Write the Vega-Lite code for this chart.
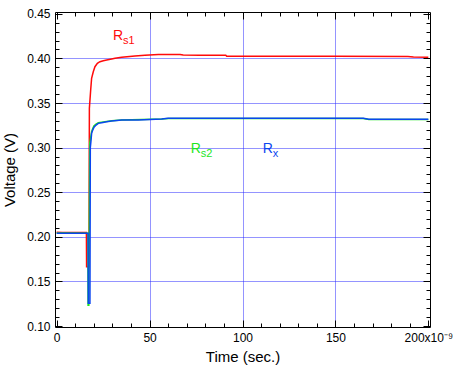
{
  "$schema": "https://vega.github.io/schema/vega-lite/v6.json",
  "width": 375,
  "height": 315,
  "autosize": {"type": "none"},
  "padding": {"left": 55, "top": 12, "right": 24, "bottom": 42},
  "background": "white",
  "config": {
    "view": {"stroke": null},
    "font": "Liberation Sans",
    "axis": {
      "domainColor": "black",
      "tickColor": "black",
      "labelColor": "black",
      "titleColor": "black",
      "labelFont": "Liberation Sans",
      "titleFont": "Liberation Sans",
      "titleFontWeight": "normal",
      "labelFontSize": 12,
      "titleFontSize": 15,
      "domainWidth": 1,
      "tickWidth": 1,
      "labelFlush": false,
      "labelOverlap": false
    }
  },
  "datasets": {
    "traces": [
      {"t": 0, "v": 0.2052, "s": "Rs1"},
      {"t": 3, "v": 0.2050, "s": "Rs1"},
      {"t": 8, "v": 0.2050, "s": "Rs1"},
      {"t": 12, "v": 0.2049, "s": "Rs1"},
      {"t": 16.0, "v": 0.2048, "s": "Rs1"},
      {"t": 16.1, "v": 0.1665, "s": "Rs1"},
      {"t": 17.4, "v": 0.1665, "s": "Rs1"},
      {"t": 17.6, "v": 0.344, "s": "Rs1"},
      {"t": 18.3, "v": 0.3646, "s": "Rs1"},
      {"t": 18.8, "v": 0.3777, "s": "Rs1"},
      {"t": 19.7, "v": 0.3851, "s": "Rs1"},
      {"t": 20.6, "v": 0.3907, "s": "Rs1"},
      {"t": 21.9, "v": 0.3945, "s": "Rs1"},
      {"t": 23.3, "v": 0.3963, "s": "Rs1"},
      {"t": 25.1, "v": 0.3974, "s": "Rs1"},
      {"t": 26.9, "v": 0.3982, "s": "Rs1"},
      {"t": 29.6, "v": 0.3993, "s": "Rs1"},
      {"t": 31.4, "v": 0.4001, "s": "Rs1"},
      {"t": 35.0, "v": 0.4012, "s": "Rs1"},
      {"t": 42.1, "v": 0.4027, "s": "Rs1"},
      {"t": 47.5, "v": 0.4035, "s": "Rs1"},
      {"t": 54.7, "v": 0.4044, "s": "Rs1"},
      {"t": 66.4, "v": 0.4044, "s": "Rs1"},
      {"t": 68.1, "v": 0.4038, "s": "Rs1"},
      {"t": 77, "v": 0.4036, "s": "Rs1"},
      {"t": 91, "v": 0.4035, "s": "Rs1"},
      {"t": 91.5, "v": 0.4024, "s": "Rs1"},
      {"t": 150, "v": 0.4024, "s": "Rs1"},
      {"t": 189, "v": 0.4022, "s": "Rs1"},
      {"t": 192, "v": 0.4015, "s": "Rs1"},
      {"t": 200, "v": 0.4013, "s": "Rs1"},
      {"t": 0, "v": 0.2044, "s": "Rs2"},
      {"t": 16.8, "v": 0.2042, "s": "Rs2"},
      {"t": 16.9, "v": 0.1235, "s": "Rs2"},
      {"t": 17.3, "v": 0.1235, "s": "Rs2"},
      {"t": 17.8, "v": 0.305, "s": "Rs2"},
      {"t": 18.4, "v": 0.3125, "s": "Rs2"},
      {"t": 18.8, "v": 0.318, "s": "Rs2"},
      {"t": 19.4, "v": 0.3215, "s": "Rs2"},
      {"t": 20.1, "v": 0.3245, "s": "Rs2"},
      {"t": 21.2, "v": 0.3265, "s": "Rs2"},
      {"t": 22.4, "v": 0.328, "s": "Rs2"},
      {"t": 24.2, "v": 0.3286, "s": "Rs2"},
      {"t": 26.9, "v": 0.3294, "s": "Rs2"},
      {"t": 29.6, "v": 0.3300, "s": "Rs2"},
      {"t": 35.0, "v": 0.3309, "s": "Rs2"},
      {"t": 56.5, "v": 0.3320, "s": "Rs2"},
      {"t": 60, "v": 0.3327, "s": "Rs2"},
      {"t": 165, "v": 0.3327, "s": "Rs2"},
      {"t": 168, "v": 0.3316, "s": "Rs2"},
      {"t": 200, "v": 0.3316, "s": "Rs2"},
      {"t": 0, "v": 0.2042, "s": "Rx"},
      {"t": 8, "v": 0.2042, "s": "Rx"},
      {"t": 16.9, "v": 0.2040, "s": "Rx"},
      {"t": 17.0, "v": 0.1255, "s": "Rx"},
      {"t": 17.9, "v": 0.1255, "s": "Rx"},
      {"t": 18.1, "v": 0.300, "s": "Rx"},
      {"t": 18.5, "v": 0.3085, "s": "Rx"},
      {"t": 18.8, "v": 0.316, "s": "Rx"},
      {"t": 19.4, "v": 0.3197, "s": "Rx"},
      {"t": 20.1, "v": 0.3228, "s": "Rx"},
      {"t": 21.2, "v": 0.3253, "s": "Rx"},
      {"t": 22.4, "v": 0.3272, "s": "Rx"},
      {"t": 24.2, "v": 0.3279, "s": "Rx"},
      {"t": 26.9, "v": 0.3290, "s": "Rx"},
      {"t": 29.6, "v": 0.3298, "s": "Rx"},
      {"t": 35.0, "v": 0.3309, "s": "Rx"},
      {"t": 43.9, "v": 0.3309, "s": "Rx"},
      {"t": 56.5, "v": 0.3320, "s": "Rx"},
      {"t": 60, "v": 0.3328, "s": "Rx"},
      {"t": 165, "v": 0.3328, "s": "Rx"},
      {"t": 168, "v": 0.3317, "s": "Rx"},
      {"t": 200, "v": 0.3317, "s": "Rx"}
    ],
    "labels": [
      {"t": 30.3, "v": 0.4206, "s": "Rs1", "main": "R", "sub": "s1"},
      {"t": 72.1, "v": 0.2943, "s": "Rs2", "main": "R", "sub": "s2"},
      {"t": 110.9, "v": 0.2943, "s": "Rx", "main": "R", "sub": "x"}
    ]
  },
  "layer": [
    {
      "data": {"name": "traces"},
      "mark": {"type": "line", "strokeWidth": 1.5, "interpolate": "linear"},
      "encoding": {
        "x": {
          "field": "t", "type": "quantitative",
          "scale": {"domain": [-0.9, 200.9], "nice": false, "zero": false},
          "axis": {
            "orient": "bottom",
            "values": [0, 50, 100, 150, 200],
            "format": "d",
            "labelExpr": "datum.value == 200 ? '200x10\u207b\u2079' : datum.label",
            "title": "Time (sec.)",
            "tickSize": -7,
            "labelPadding": 12,
            "titlePadding": 6,
            "grid": true,
            "gridColor": "#2828ff",
            "gridDash": [1, 1],
            "gridWidth": 1,
            "gridOpacity": {"condition": {"test": "datum.value <= 0 || datum.value >= 200", "value": 0}, "value": 1}
          }
        },
        "y": {
          "field": "v", "type": "quantitative",
          "scale": {"domain": [0.099, 0.452], "nice": false, "zero": false},
          "axis": {
            "orient": "left",
            "values": [0.1, 0.15, 0.2, 0.25, 0.3, 0.35, 0.4, 0.45],
            "format": ".2f",
            "title": "Voltage (V)",
            "tickSize": -7,
            "labelPadding": 12,
            "titlePadding": 9,
            "grid": true,
            "gridColor": "#2828ff",
            "gridDash": [1, 1],
            "gridWidth": 1,
            "gridOpacity": {"condition": {"test": "datum.value <= 0.1001 || datum.value >= 0.4499", "value": 0}, "value": 1}
          }
        },
        "color": {
          "field": "s", "type": "nominal",
          "scale": {"domain": ["Rs1", "Rs2", "Rx"], "range": ["#ff0a0a", "#1ee61e", "#0a45f0"]},
          "legend": null
        }
      }
    },
    {
      "data": {"name": "labels"},
      "mark": {"type": "point", "opacity": 0},
      "encoding": {
        "x": {"field": "t", "type": "quantitative", "axis": {"orient": "bottom", "values": [10,20,30,40,60,70,80,90,110,120,130,140,160,170,180,190], "labels": false, "domain": false, "grid": false, "tickSize": -4, "title": null}},
        "y": {"field": "v", "type": "quantitative", "axis": {"orient": "left", "values": [0.11,0.12,0.13,0.14,0.16,0.17,0.18,0.19,0.21,0.22,0.23,0.24,0.26,0.27,0.28,0.29,0.31,0.32,0.33,0.34,0.36,0.37,0.38,0.39,0.41,0.42,0.43,0.44], "labels": false, "domain": false, "grid": false, "tickSize": -4, "title": null}}
      }
    },
    {
      "data": {"name": "labels"},
      "mark": {"type": "point", "opacity": 0},
      "encoding": {
        "x": {"field": "t", "type": "quantitative", "axis": {"orient": "top", "values": [0, 50, 100, 150, 200], "labels": false, "domain": true, "grid": false, "tickSize": -7, "title": null}},
        "y": {"field": "v", "type": "quantitative", "axis": {"orient": "right", "values": [0.1, 0.15, 0.2, 0.25, 0.3, 0.35, 0.4, 0.45], "labels": false, "domain": true, "grid": false, "tickSize": -7, "title": null}}
      }
    },
    {
      "data": {"name": "labels"},
      "mark": {"type": "point", "opacity": 0},
      "encoding": {
        "x": {"field": "t", "type": "quantitative", "axis": {"orient": "top", "values": [10,20,30,40,60,70,80,90,110,120,130,140,160,170,180,190], "labels": false, "domain": false, "grid": false, "tickSize": -4, "title": null}},
        "y": {"field": "v", "type": "quantitative", "axis": {"orient": "right", "values": [0.11,0.12,0.13,0.14,0.16,0.17,0.18,0.19,0.21,0.22,0.23,0.24,0.26,0.27,0.28,0.29,0.31,0.32,0.33,0.34,0.36,0.37,0.38,0.39,0.41,0.42,0.43,0.44], "labels": false, "domain": false, "grid": false, "tickSize": -4, "title": null}}
      }
    },
    {
      "data": {"name": "labels"},
      "mark": {"type": "text", "align": "left", "baseline": "alphabetic", "fontSize": 14, "font": "Liberation Sans"},
      "encoding": {
        "x": {"field": "t", "type": "quantitative", "axis": null},
        "y": {"field": "v", "type": "quantitative", "axis": null},
        "text": {"field": "main"},
        "color": {"field": "s", "type": "nominal", "legend": null}
      }
    },
    {
      "data": {"name": "labels"},
      "mark": {"type": "text", "align": "left", "baseline": "alphabetic", "fontSize": 11, "font": "Liberation Sans", "dx": 10, "dy": 4},
      "encoding": {
        "x": {"field": "t", "type": "quantitative", "axis": null},
        "y": {"field": "v", "type": "quantitative", "axis": null},
        "text": {"field": "sub"},
        "color": {"field": "s", "type": "nominal", "legend": null}
      }
    }
  ],
  "resolve": {"axis": {"x": "independent", "y": "independent"}}
}
